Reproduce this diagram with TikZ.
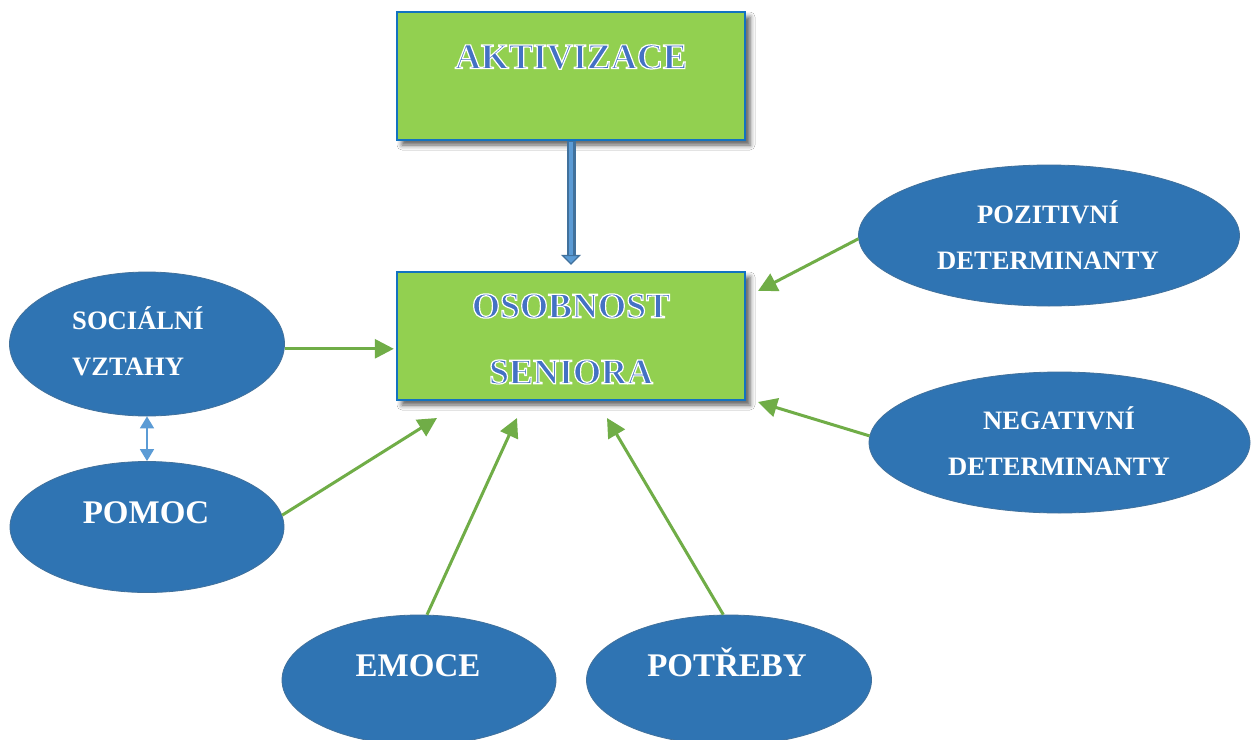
\documentclass[tikz,border=0pt]{standalone}
\usepackage{fontspec}
\setmainfont{Liberation Serif}
\usetikzlibrary{shapes.geometric,arrows.meta,shadows.blur}

\definecolor{boxgreen}{HTML}{92D050}
\definecolor{boxedge}{HTML}{1272C0}
\definecolor{bubblefill}{HTML}{2F74B3}
\definecolor{bubbleedge}{HTML}{41719C}
\definecolor{feedgreen}{HTML}{70AD47}
\definecolor{artblue}{HTML}{4472C4}
\definecolor{pairblue}{HTML}{5B9BD5}
\definecolor{pipedark}{HTML}{41719C}
\definecolor{pipelight}{HTML}{5B9BD5}

% blue letters with a white outline (fill + stroke render mode)
\newcommand{\wordart}[1]{%
  {\color{artblue}\special{pdf:literal direct 2 Tr 0.6 w 1 1 1 RG}#1\special{pdf:literal direct 0 Tr}}}

\begin{document}
\begin{tikzpicture}[x=0.5pt,y=-0.5pt,
    box/.style={draw=boxedge,line width=1.2pt,fill=boxgreen,minimum width=174pt,minimum height=64pt,inner sep=0pt,
      blur shadow={shadow xshift=2.5pt,shadow yshift=-2.5pt,shadow blur radius=2.5pt,shadow opacity=65}},
    bubble/.style={ellipse,draw=bubbleedge,line width=0.4pt,fill=bubblefill,inner sep=0pt},
    title/.style={font=\bfseries\fontsize{18}{33}\selectfont,align=center},
    small/.style={text=white,font=\bfseries\fontsize{13.3}{23}\selectfont,align=center},
    smallleft/.style={small,align=left},
    big/.style={text=white,font=\bfseries\fontsize{16.5}{20}\selectfont,anchor=base},
    feed/.style={draw=feedgreen,line width=1.5pt,-{Triangle[length=9.5pt,width=9.5pt]}}]

    \fill[white] (0,0) rectangle (1257,739);
    \useasboundingbox (0,0) rectangle (1257,739);

    \node[box] (akt) at (571,76) {};
    \node[box] (osob) at (571,336) {};
    \node[title] (aktText) at (571,57) {\wordart{AKTIVIZACE}};
    \node[title] (osobText) at (571,339) {\wordart{OSOBNOST}\\\wordart{SENIORA}};

    \node[bubble,minimum width=137.5pt,minimum height=72pt] (soc) at (147,344) {};
    \node[bubble,minimum width=137pt,minimum height=65.5pt] (pom) at (147,527) {};
    \node[bubble,minimum width=137pt,minimum height=65pt] (emo) at (419,680) {};
    \node[bubble,minimum width=142.5pt,minimum height=65pt] (pot) at (729,680) {};
    \node[bubble,minimum width=190.5pt,minimum height=70.5pt] (poz) at (1049,235.5) {};
    \node[bubble,minimum width=190.5pt,minimum height=70.5pt] (neg) at (1059.5,442.5) {};

    \node[smallleft] (socText) at (138,341) {SOCIÁLNÍ\\VZTAHY};
    \node[big] (pomText) at (146,523) {POMOC};
    \node[big] (emoText) at (418,676) {EMOCE};
    \node[big] (potText) at (727,676) {POTŘEBY};
    \node[small] (pozText) at (1048,235) {POZITIVNÍ\\DETERMINANTY};
    \node[small] (negText) at (1059,441.5) {NEGATIVNÍ\\DETERMINANTY};

    \coordinate (tPom) at (437,418);
    \coordinate (tEmo) at (517,418);
    \coordinate (tPot) at (607,418);
    \coordinate (tPoz) at (758,291);
    \coordinate (tNeg) at (758,402);

    \draw[line width=4.5pt,draw=pipedark,-{Triangle[length=5pt,width=10pt,line width=0.6pt,fill=pipelight]}] (akt.south) -- ([yshift=3pt]osob.north);
    \draw[line width=2.3pt,draw=pipelight] ([yshift=-0.6pt]akt.south) -- ([yshift=8pt]osob.north);

    \draw[feed] (soc.-2) -- ([xshift=-1pt]soc.-2 -| osob.west);
    \draw[feed] (pom.5) -- (tPom);
    \draw[feed] (emo.83) -- (tEmo);
    \draw[feed] (pot.95) -- (tPot);
    \draw[feed] (poz.181) -- (tPoz);
    \draw[feed] (neg.178.5) -- (tNeg);

    \draw[draw=pairblue,line width=0.8pt,{Triangle[length=6pt,width=7pt]}-{Triangle[length=6pt,width=7pt]}] (soc.south) -- (pom.north);
\end{tikzpicture}
\end{document}
